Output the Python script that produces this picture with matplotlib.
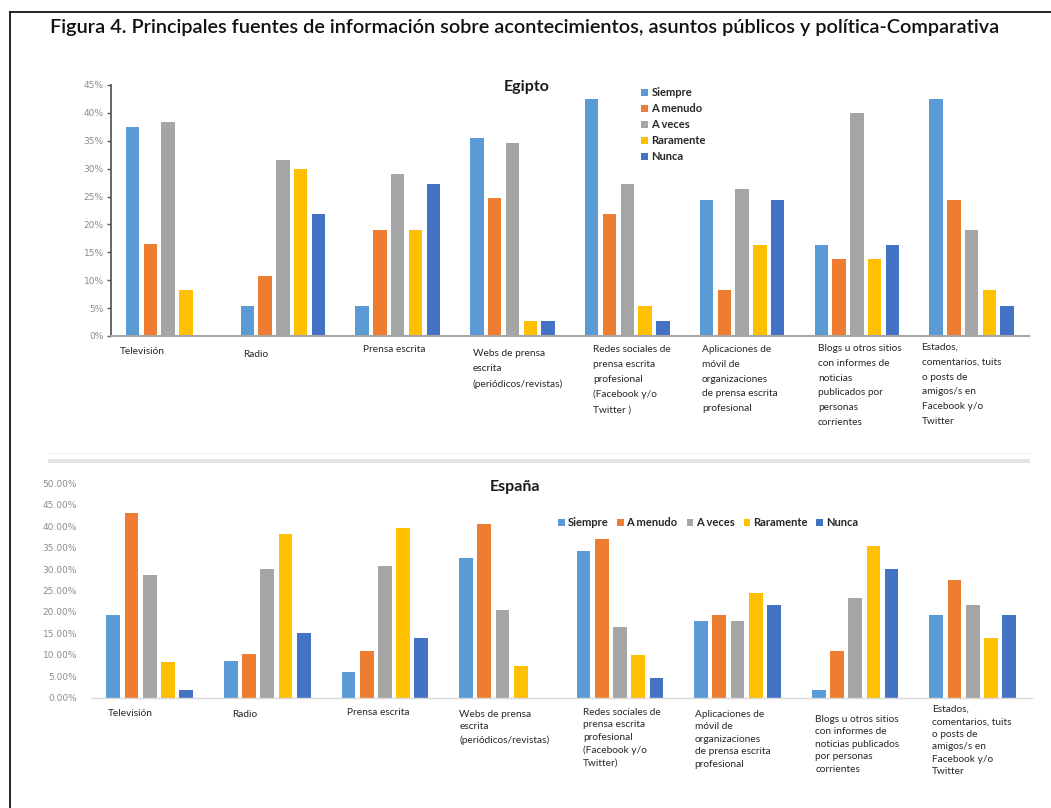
''' fuentes de informacion: Egipto vs Espana '''

import matplotlib.pyplot as plt
import numpy as np
from matplotlib.lines import Line2D
from matplotlib.patches import Rectangle

W, H = 1051, 808

frecuencias = ['Siempre', 'A menudo', 'A veces', 'Raramente', 'Nunca']
colores = ['#5B9BD5', '#ED7D31', '#A5A5A5', '#FFC000', '#4472C4']

fuentes_eg = ['Televisión', 'Radio', 'Prensa escrita',
              'Webs de prensa\nescrita\n(periódicos/revistas)',
              'Redes sociales de\nprensa escrita\nprofesional\n(Facebook y/o\nTwitter )',
              'Aplicaciones de\nmóvil de\norganizaciones\nde prensa escrita\nprofesional',
              'Blogs u otros sitios\ncon informes de\nnoticias\npublicados por\npersonas\ncorrientes',
              'Estados,\ncomentarios, tuits\no posts de\namigos/s en\nFacebook y/o\nTwitter']
fuentes_es = ['Televisión', 'Radio', 'Prensa escrita',
              'Webs de prensa\nescrita\n(periódicos/revistas)',
              'Redes sociales de\nprensa escrita\nprofesional\n(Facebook y/o\nTwitter)',
              'Aplicaciones de\nmóvil de\norganizaciones\nde prensa escrita\nprofesional',
              'Blogs u otros sitios\ncon informes de\nnoticias publicados\npor personas\ncorrientes',
              'Estados,\ncomentarios, tuits\no posts de\namigos/s en\nFacebook y/o\nTwitter']

# Egipto (%)
siempre_eg = [37.5, 5.4, 5.4, 35.5, 42.5, 24.4, 16.4, 42.5]
menudo_eg = [16.5, 10.8, 19.0, 24.7, 21.8, 8.2, 13.8, 24.4]
veces_eg = [38.4, 31.6, 29.0, 34.6, 27.3, 26.4, 40.0, 19.0]
raramente_eg = [8.2, 30.0, 19.0, 2.7, 5.4, 16.4, 13.8, 8.2]
nunca_eg = [0.0, 21.8, 27.2, 2.7, 2.7, 24.4, 16.4, 5.4]

# Espana (%)
siempre_es = [19.2, 8.6, 6.0, 32.5, 34.2, 18.0, 1.9, 19.2]
menudo_es = [43.1, 10.1, 11.0, 40.5, 36.9, 19.3, 11.0, 27.4]
veces_es = [28.6, 29.9, 30.7, 20.5, 16.6, 18.0, 23.3, 21.6]
raramente_es = [8.4, 38.1, 39.5, 7.5, 10.0, 24.5, 35.4, 13.9]
nunca_es = [1.8, 15.2, 13.9, 0.0, 4.5, 21.6, 29.9, 19.2]

titulo = ('Figura 4. Principales fuentes de información sobre acontecimientos, '
          'asuntos públicos y política-Comparativa')


def box(x0, y0, x1, y1):
	# pixel box -> figure fraction rect
	return [x0 / W, 1 - y1 / H, (x1 - x0) / W, (y1 - y0) / H]


def draw_bars(ax, series, ymax):
	ind = np.arange(len(series[0]))
	step, width = 0.155, 0.117
	rects = []
	for k, vals in enumerate(series):
		r = ax.bar(ind + (k - 2) * step, vals, width, color=colores[k], label=frecuencias[k])
		rects.append(r)
	ax.set_xlim(-0.5, len(ind) - 0.5)
	ax.set_ylim(0, ymax)
	ax.set_xticks([])
	ax.spines['top'].set_visible(False)
	ax.spines['right'].set_visible(False)
	return rects


def draw_labels(ax, labels, dx, dy, spacing):
	for i, lab in enumerate(labels):
		ax.annotate(lab, xy=(i, 0), xytext=(dx[i], dy[i]), textcoords='offset pixels',
		            ha='left', va='top', fontsize=7.3, family='Lato', color='#262626',
		            linespacing=spacing, annotation_clip=False)


fig = plt.figure(figsize=(W / 100., H / 100.), dpi=100)

# ---- Egipto
ax1 = fig.add_axes(box(110.8, 85, 1029, 336))
rects1 = draw_bars(ax1, [siempre_eg, menudo_eg, veces_eg, raramente_eg, nunca_eg], 45)
ax1.set_yticks(np.arange(0, 46, 5))
ax1.set_yticklabels(['%d%%' % v for v in np.arange(0, 46, 5)])
ax1.tick_params(axis='y', length=3, width=1, color='#595959', labelsize=6.5,
                labelcolor='#8c8c8c', pad=2)
ax1.spines['left'].set_color('#595959')
ax1.spines['left'].set_linewidth(1.3)
ax1.spines['bottom'].set_color('#a6a6a6')
ax1.spines['bottom'].set_linewidth(1.5)
draw_labels(ax1, fuentes_eg, [-48, -40, -35, -40, -34, -40, -39, -50],
            [-11, -14, -9, -13, -9, -9, -8, -7], 1.83)

fig.text(527 / W, 1 - 87 / H, 'Egipto', ha='center', va='center', fontsize=11.5,
         fontweight='bold', family='Lato', color='#1a1a1a')
fig.legend([r[0] for r in rects1], frecuencias, loc='upper left',
           bbox_to_anchor=(641 / W, 1 - 87 / H), frameon=False, handlelength=0.6,
           handleheight=0.6, handletextpad=0.35, labelspacing=0.45, borderpad=0,
           borderaxespad=0, prop={'family': 'Lato', 'weight': 'bold', 'size': 8},
           labelcolor='#262626')

# ---- Espana
ax2 = fig.add_axes(box(91, 483.3, 1031.5, 697.7))
rects2 = draw_bars(ax2, [siempre_es, menudo_es, veces_es, raramente_es, nunca_es], 50)
ax2.set_yticks(np.arange(0, 51, 5))
ax2.set_yticklabels(['%.2f%%' % v for v in np.arange(0, 51, 5)])
ax2.tick_params(axis='y', length=0, labelsize=6.5, labelcolor='#8c8c8c', pad=10)
ax2.spines['left'].set_visible(False)
ax2.spines['bottom'].set_color('#d9d9d9')
ax2.spines['bottom'].set_linewidth(1.0)
draw_labels(ax2, fuentes_es, [-42, -35, -38, -43, -37, -43, -40, -41],
            [-11, -12, -10, -12, -10, -12, -17, -7], 1.5)

fig.text(515 / W, 1 - 487 / H, 'España', ha='center', va='center', fontsize=11.5,
         fontweight='bold', family='Lato', color='#1a1a1a')
fig.legend([r[0] for r in rects2], frecuencias, loc='upper left', ncol=5,
           bbox_to_anchor=(558 / W, 1 - 517 / H), frameon=False, handlelength=0.6,
           handleheight=0.6, handletextpad=0.25, columnspacing=0.8, borderpad=0,
           borderaxespad=0, prop={'family': 'Lato', 'weight': 'bold', 'size': 8},
           labelcolor='#262626')

# ---- frame, separator and main title
fig.add_artist(Line2D([10 / W, 10 / W], [0, 1 - 12 / H], color='black', lw=1.2))
fig.add_artist(Line2D([10 / W, 1], [1 - 12 / H, 1 - 12 / H], color='black', lw=1.2))
fig.add_artist(Rectangle((48 / W, 1 - 463 / H), (1030 - 48) / W, 4 / H,
                         color='#e4e4e4', lw=0))
fig.add_artist(Line2D([48 / W, 1030 / W], [1 - 453 / H, 1 - 453 / H], color='#f2f2f2', lw=1))

t = fig.text(525 / W, 1 - 28 / H, titulo, ha='center', va='center', fontsize=11,
             fontweight='semibold', family='Lato', color='#111111')
fig.canvas.draw()
bb = t.get_window_extent()
t.set_fontsize(t.get_fontsize() * 950. / bb.width)

fig.savefig('out.png', dpi=100)
